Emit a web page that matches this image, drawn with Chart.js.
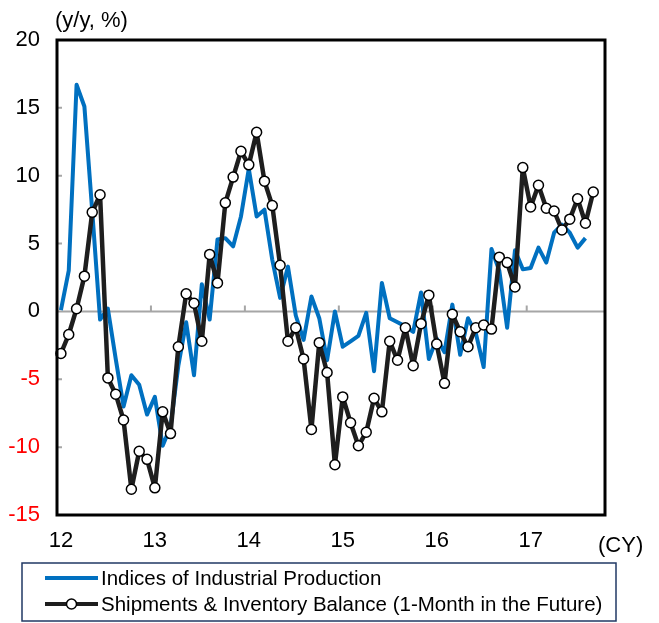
<!DOCTYPE html>
<html>
<head>
<meta charset="utf-8">
<script src="https://cdn.jsdelivr.net/npm/chart.js@4.4.1/dist/chart.umd.min.js"></script>
<style>
  html, body { margin: 0; padding: 0; background: #fff; }
  canvas { display: block; }
</style>
</head>
<body>
<canvas id="chart_div" width="659" height="623"></canvas>
<script>
const ctx = document.getElementById('chart_div');

// calendar years shown on the axis, one category per month from Jan 2012
const yearLabels = ['12', '13', '14', '15', '16', '17'];
const MONTH_COUNT = 70;

// Indices of Industrial Production, y/y %
const ipValues = [
    0.1, 3.0, 16.7, 15.1, 7.4, -0.6, 0.2, -3.5, -7.0, -4.7, -5.4, -7.6,
    -6.3, -9.9, -8.5, -4.0, -0.8, -4.7, 2.0, -0.6, 5.3, 5.4, 4.8, 7.0,
    10.5, 7.0, 7.5, 3.8, 1.0, 3.3, -0.3, -2.1, 1.1, -0.5, -3.6, 0.0,
    -2.6, -2.2, -1.8, -0.1, -4.4, 2.1, -0.5, -0.8, -1.1, -1.5, 1.4, -3.5,
    -2.0, -3.0, 0.5, -3.2, -0.5, -1.6, -4.1, 4.6, 3.0, -1.2, 4.5, 3.1,
    3.2, 4.7, 3.6, 5.8, 6.4, 5.8, 4.7, 5.4
];

// Shipments & Inventory Balance, shifted one month ahead
const siValues = [
    -3.1, -1.7, 0.2, 2.6, 7.3, 8.6, -4.9, -6.1, -8.0, -13.1, -10.3, -10.9,
    -13.0, -7.4, -9.0, -2.6, 1.3, 0.6, -2.2, 4.2, 2.1, 8.0, 9.9, 11.8,
    10.8, 13.2, 9.6, 7.8, 3.4, -2.2, -1.2, -3.5, -8.7, -2.3, -4.5, -11.3,
    -6.3, -8.2, -9.9, -8.9, -6.4, -7.4, -2.2, -3.6, -1.2, -4.0, -0.9, 1.2,
    -2.4, -5.3, -0.2, -1.5, -2.6, -1.2, -1.0, -1.3, 4.0, 3.6, 1.8, 10.6,
    7.7, 9.3, 7.6, 7.4, 6.0, 6.8, 8.3, 6.5, 8.8
];

const seriesNames = [
    'Indices of Industrial Production',
    'Shipments & Inventory Balance (1-Month in the Future)'
];

const BLUE = '#0070C0';
const DARK = '#1E1E1E';
const FONT = 'Arial, "Liberation Sans", sans-serif';

const months = [];
for (let i = 0; i < MONTH_COUNT; i++) {
    const y = 2012 + Math.floor(i / 12);
    months.push(y + '-' + String(i % 12 + 1).padStart(2, '0'));
}

// zero line, small tick marks, frame, legend box and the loose texts
const frame = {
    id: 'frame',
    beforeDatasetsDraw(chart) {
        const { ctx: c, chartArea: a, scales: { x, y } } = chart;
        const y0 = y.getPixelForValue(0);
        c.save();
        c.strokeStyle = '#A6A6A6';
        c.lineWidth = 2;
        c.beginPath();
        c.moveTo(a.left, y0);
        c.lineTo(a.right, y0);
        // year boundaries on the zero line
        for (let i = 1; i < yearLabels.length; i++) {
            const px = (x.getPixelForValue(i * 12) + x.getPixelForValue(i * 12 - 1)) / 2;
            c.moveTo(px, y0);
            c.lineTo(px, y0 - 6);
        }
        // inner ticks on the value axis
        for (let v = -10; v <= 15; v += 5) {
            const py = y.getPixelForValue(v);
            c.moveTo(a.left, py);
            c.lineTo(a.left + 5, py);
        }
        c.stroke();
        c.restore();
    },
    afterDraw(chart) {
        const { ctx: c, chartArea: a } = chart;
        c.save();
        c.strokeStyle = '#000';
        c.lineWidth = 3;
        c.strokeRect(a.left, a.top, a.right - a.left, a.bottom - a.top);

        c.fillStyle = '#000';
        c.font = '22px ' + FONT;
        c.textBaseline = 'middle';
        c.textAlign = 'left';
        c.fillText('(y/y, %)', 55, 21);
        c.fillText('(CY)', 598, 546);

        // legend
        c.strokeStyle = '#203864';
        c.lineWidth = 1.5;
        c.strokeRect(22, 563, 594, 58);
        const rows = [578, 604];
        const colors = [BLUE, DARK];
        rows.forEach((ry, i) => {
            c.strokeStyle = colors[i];
            c.lineWidth = 4;
            c.beginPath();
            c.moveTo(45, ry);
            c.lineTo(98, ry);
            c.stroke();
            if (i === 1) {
                c.beginPath();
                c.arc(71.5, ry, 5, 0, Math.PI * 2);
                c.fillStyle = '#fff';
                c.fill();
                c.lineWidth = 1.5;
                c.strokeStyle = '#000';
                c.stroke();
            }
            c.fillStyle = '#000';
            c.font = '20.5px ' + FONT;
            c.fillText(seriesNames[i], 101, ry + 1);
        });
        c.restore();
    }
};

new Chart(ctx, {
    type: 'line',
    data: {
        labels: months,
        datasets: [
            {
                label: seriesNames[0],
                data: ipValues,
                borderColor: BLUE,
                borderWidth: 4,
                borderJoinStyle: 'round',
                pointRadius: 0,
                tension: 0,
                order: 1
            },
            {
                label: seriesNames[1],
                data: siValues,
                borderColor: DARK,
                borderWidth: 4.5,
                borderJoinStyle: 'round',
                pointRadius: 5,
                pointBorderWidth: 1.5,
                pointBackgroundColor: '#fff',
                pointBorderColor: '#000',
                tension: 0,
                order: 0
            }
        ]
    },
    options: {
        responsive: false,
        animation: false,
        layout: {
            padding: { top: 40, right: 54, bottom: 70, left: 0 }
        },
        plugins: {
            legend: { display: false },
            tooltip: { enabled: false }
        },
        scales: {
            x: {
                offset: true,
                grid: { display: false, drawTicks: false },
                border: { display: false },
                ticks: {
                    autoSkip: false,
                    maxRotation: 0,
                    padding: 13,
                    color: '#000',
                    font: { size: 22, family: FONT },
                    callback: (v, i) => i % 12 === 0 ? yearLabels[i / 12] : ''
                },
                afterFit: s => { s.height = 38; }
            },
            y: {
                min: -15,
                max: 20,
                grid: { display: false, drawTicks: false },
                border: { display: false },
                ticks: {
                    stepSize: 5,
                    padding: 17,
                    color: c => c.tick.value < 0 ? '#FF0000' : '#000',
                    font: { size: 22, family: FONT }
                },
                afterFit: s => { s.width = 57; }
            }
        }
    },
    plugins: [frame]
});
</script>
</body>
</html>
